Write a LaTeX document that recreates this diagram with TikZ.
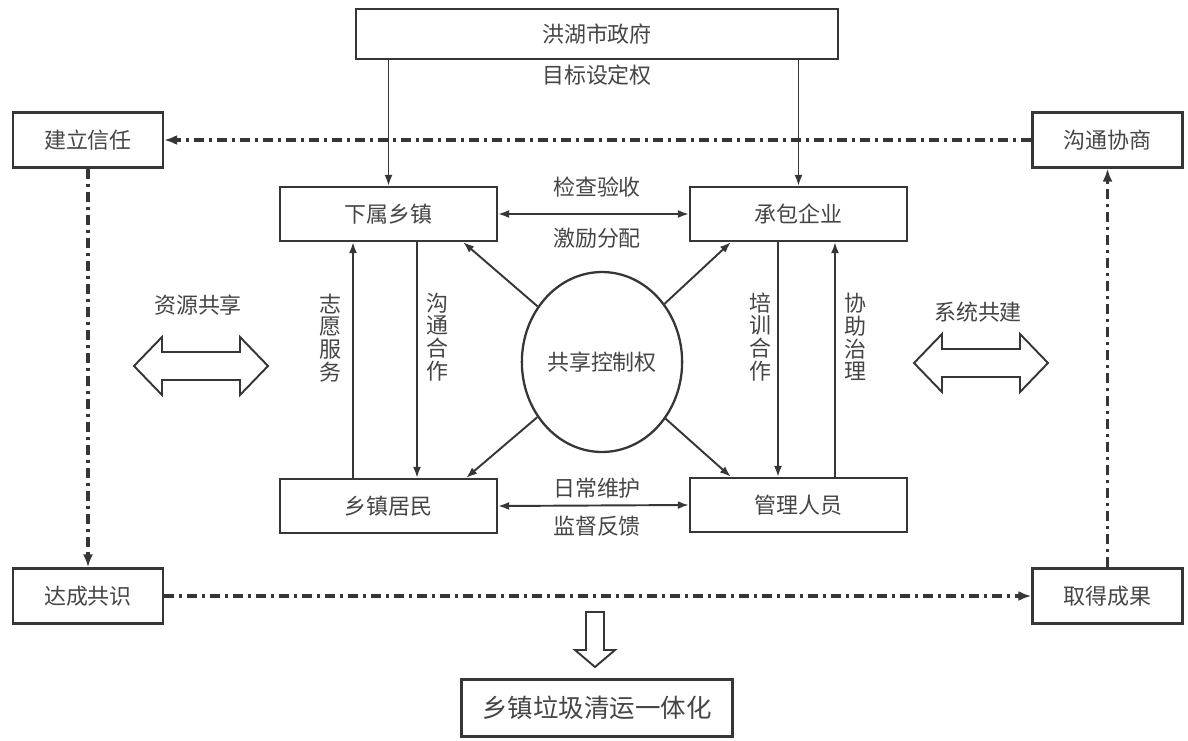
\documentclass[tikz,border=0pt]{standalone}
\usepackage{fontspec}
\usepackage{xcolor}
\usepackage{tikz}
\usetikzlibrary{arrows.meta,positioning,calc,shapes.geometric}
\newfontfamily\cjk{Noto Sans CJK SC}
\definecolor{ink}{HTML}{363636}
\definecolor{txt}{HTML}{454545}
\tikzset{
    every picture/.style={line join=miter},
    actor/.style={draw=ink,line width=1.3pt,minimum width=4.34cm,minimum height=1.08cm,
      inner sep=2pt,font=\cjk\fontsize{12.5}{14}\selectfont,text=txt},
    stage/.style={actor,minimum width=3cm,minimum height=1.1cm},
    flowarrow/.style={-{Latex[length=2.2mm,width=1.6mm]},draw=ink,line width=1.1pt},
    twoway/.style={{Latex[length=2.2mm,width=1.6mm]}-{Latex[length=2.2mm,width=1.6mm]},
      draw=ink,line width=1.1pt},
    loopline/.style={-{Latex[length=2.6mm,width=2mm]},draw=ink,line width=1.8pt,
      dash pattern=on 2mm off 1mm on 0.6mm off 1mm},
    tag/.style={text=txt,font=\cjk\fontsize{12.5}{13}\selectfont,inner sep=1pt,align=center},
    hollow/.style={draw=ink,line width=1.1pt,fill=white}
}

\begin{document}
\begin{tikzpicture}[x=0.02cm,y=-0.02cm]
  \useasboundingbox (0,0) rectangle (1188,741);
  % actors
  \node[actor,minimum width=9.64cm,minimum height=1cm] (gov) at (597,34) {洪湖市政府};
  \node[actor] (zx) at (388.5,214) {下属乡镇};
  \node[actor] (qy) at (798.5,214) {承包企业};
  \node[actor] (jm) at (388.5,506) {乡镇居民};
  \node[actor] (gl) at (798.5,505) {管理人员};
  \node[ellipse,draw=ink,line width=1.3pt,minimum width=3.1cm,minimum height=3.6cm,
    inner sep=1pt,font=\cjk\fontsize{12.5}{14}\selectfont,text=txt] (ctrl) at (602,362) {共享控制权};
  % loop of stages
  \node[stage] (trust) at (88,140) {建立信任};
  \node[stage] (talk) at (1107.5,140) {沟通协商};
  \node[stage] (agree) at (88,596) {达成共识};
  \node[stage] (gain) at (1107.5,596) {取得成果};
  \node[actor,minimum width=5.42cm,minimum height=1.14cm,
    font=\cjk\fontsize{14.5}{16}\selectfont] (goal) at (597,708) {乡镇垃圾清运一体化};

  \draw[flowarrow] (gov.south -| zx.north) -- (zx.north);
  \draw[flowarrow] (gov.south -| qy.north) -- (qy.north);
  \node[tag] (sd) at (597,75) {目标设定权};

  \draw[twoway] (zx.east) -- (qy.west);
  \node[tag] (jc) at (597,187) {检查验收};
  \node[tag] (jl) at (597,238) {激励分配};
  \draw[twoway] (jm.east) -- (gl.west);
  \node[tag] (rc) at (597,488) {日常维护};
  \node[tag] (jd) at (597,526) {监督反馈};

  \draw[flowarrow] ([xshift=-7.1mm]jm.north) -- ([xshift=-7.1mm]zx.south);
  \draw[flowarrow] ([xshift=5.7mm]zx.south) -- ([xshift=5.7mm]jm.north);
  \draw[flowarrow] ([xshift=-4.1mm]qy.south) -- ([xshift=-4.1mm]gl.north);
  \draw[flowarrow] ([xshift=7.3mm]gl.north) -- ([xshift=7.3mm]qy.south);
  \node[tag] (zy) at (330,338) {志\\愿\\服\\务};
  \node[tag] (gt) at (437,337) {沟\\通\\合\\作};
  \node[tag] (px) at (760,337) {培\\训\\合\\作};
  \node[tag] (xz) at (855,337) {协\\助\\治\\理};

  \draw[flowarrow] (ctrl) -- ([xshift=-7mm]zx.south east);
  \draw[flowarrow] (ctrl) -- ([xshift=8.4mm]qy.south west);
  \draw[flowarrow] (ctrl) -- ([xshift=-6.4mm]jm.north east);
  \draw[flowarrow] (ctrl) -- ([xshift=8.4mm]gl.north west);

  \draw[loopline] (talk) -- (trust);
  \draw[loopline] (trust) -- (agree);
  \draw[loopline] (agree) -- (gain);
  \draw[loopline] (gain) -- (talk);

  % hollow block arrows
  \foreach \cx/\cy in {201/366,981/363}
    \draw[hollow] (\cx-67,\cy) -- ++(28,-29) -- ++(0,15) -- ++(78,0) -- ++(0,-15)
      -- ++(28,29) -- ++(-28,29) -- ++(0,-15) -- ++(-78,0) -- ++(0,15) -- cycle;
  \node[tag] (zyg) at (198,305) {资源共享};
  \node[tag] (xtg) at (978,312) {系统共建};
  \draw[hollow] (586,612) -- (604,612) -- (604,650) -- (615,650) -- (595,667)
    -- (575,650) -- (586,650) -- cycle;
\end{tikzpicture}
\end{document}
